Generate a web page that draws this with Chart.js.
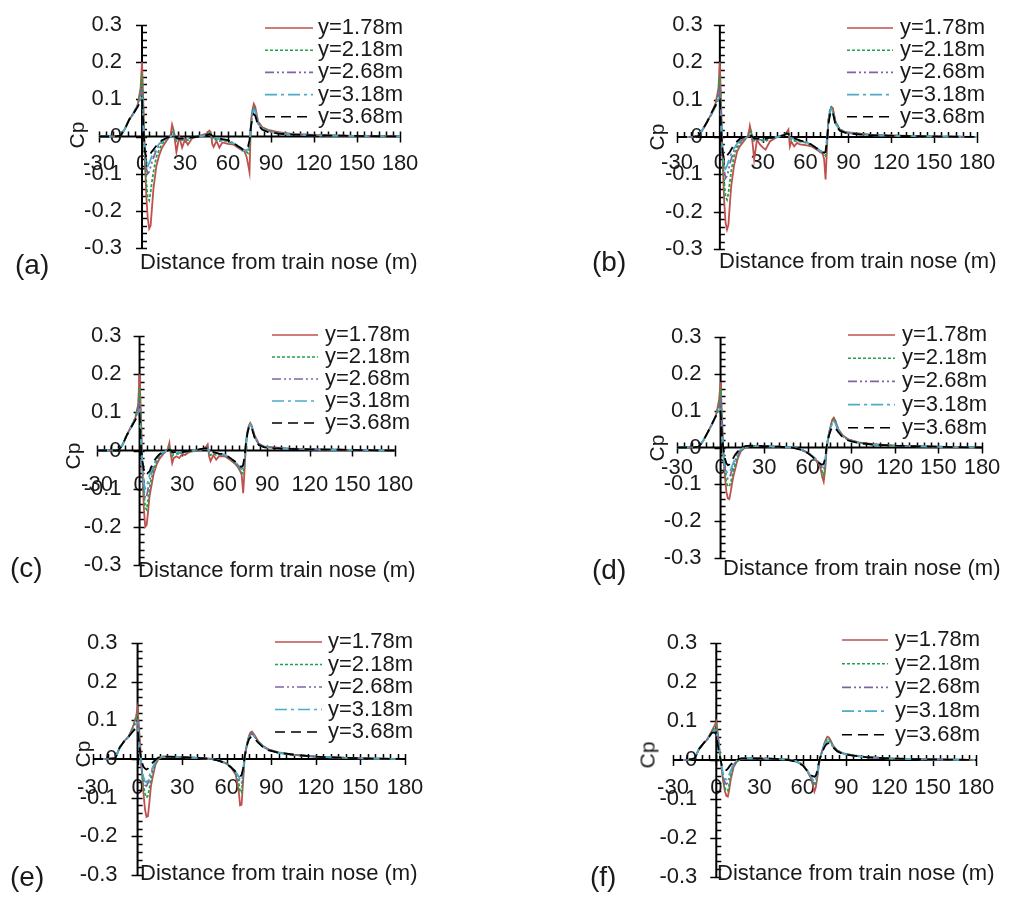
<!DOCTYPE html>
<html lang="en">
<head>
<meta charset="utf-8">
<title>Cp along the train at several heights</title>
<script src="https://cdn.jsdelivr.net/npm/chart.js@4.4.1/dist/chart.umd.min.js"></script>
<style>
  html, body { margin: 0; padding: 0; background: #ffffff; }
  #page { position: relative; width: 1013px; height: 899px; overflow: hidden;
          font-family: "Liberation Sans", Arial, sans-serif; color: #1a1a1a; }
  #page canvas { position: absolute; left: 0; top: 0; }
  .lbl { position: absolute; white-space: nowrap; line-height: 1; }
  .tag { font-size: 28px; transform: translateY(-50%); }
  .xtitle { font-size: 22px; transform: translateY(-50%); }
  .ytitle { font-size: 21px; transform: translate(-50%, -50%) rotate(-90deg); }
</style>
</head>
<body>
<div id="page"></div>
<script>
// ---------- data ----------
const SERIES_LABELS = ['y=1.78m', 'y=2.18m', 'y=2.68m', 'y=3.18m', 'y=3.68m'];
const X_TICKS = [-30, 0, 30, 60, 90, 120, 150, 180];
const Y_TICKS = [-0.3, -0.2, -0.1, 0, 0.1, 0.2, 0.3];
const Y_AXIS_TITLE = 'Cp';
const X_TITLE = 'Distance from train nose (m)';
const X_TITLE_C = 'Distance form train nose (m)';
const PANEL_TAGS = ['(a)', '(b)', '(c)', '(d)', '(e)', '(f)'];

// sampling positions (m) for panels a-c and d-f
const X_NOISY = [
  -30, -20, -15, -12, -9, -6, -3, -1, 0,
  1, 2, 3, 4, 5, 6, 7, 8,
  10, 12, 14, 17, 20,
  21, 22, 23, 24, 26, 28, 30, 32, 35,
  40, 45, 47, 48, 49, 50, 52, 54, 56,
  60, 64, 67, 69, 70, 71, 72, 73, 74, 75, 76, 77, 78, 79,
  81, 84, 88, 95, 105, 120, 140, 160, 180
];
const X_SMOOTH = [
  -30, -20, -15, -12, -9, -6, -3, -1, 0,
  1, 2, 3, 4, 5, 6, 7, 8, 9, 10,
  12, 14, 17, 20,
  30, 40, 50, 55, 60,
  63, 66, 68, 69, 70, 71, 72, 73, 74, 75, 76, 77, 78, 79,
  81, 84, 88, 95, 105, 120, 140, 160, 180
];

// (a)
const A_178 = [
  0, 0, 0.002, 0.02, 0.045, 0.062, 0.085, 0.13, 0.2,
  0.08, -0.06, -0.16, -0.22, -0.248, -0.24, -0.19, -0.14,
  -0.08, -0.05, -0.03, -0.012, 0.005,
  0.032, 0.018, -0.012, -0.042, 0, -0.03, -0.008, -0.022, -0.005,
  0.002, 0.008, 0.016, 0.012, -0.02, -0.028, -0.012, -0.03, -0.016,
  -0.02, -0.022, -0.03, -0.035, -0.038, -0.036, -0.045, -0.055, -0.075, -0.096, 0.04, 0.07, 0.088, 0.08,
  0.04, 0.025, 0.018, 0.012, 0.007, 0.004, 0.002, 0.001, 0
];
const A_218 = [
  0, 0, 0.002, 0.02, 0.045, 0.062, 0.085, 0.12, 0.17,
  0.06, -0.05, -0.12, -0.165, -0.172, -0.15, -0.12, -0.095,
  -0.055, -0.035, -0.02, -0.008, 0.002,
  0.01, 0.015, 0.002, -0.012, -0.004, -0.01, -0.006, -0.01, -0.003,
  0, 0.005, 0.01, 0.008, -0.004, -0.01, -0.008, -0.012, -0.01,
  -0.013, -0.02, -0.027, -0.033, -0.036, -0.038, -0.04, -0.042, -0.045, -0.03, 0.03, 0.065, 0.08, 0.074,
  0.038, 0.022, 0.015, 0.01, 0.006, 0.004, 0.002, 0.001, 0
];
const A_268 = [
  0, 0, 0.002, 0.02, 0.045, 0.062, 0.083, 0.105, 0.13,
  0.03, -0.05, -0.085, -0.1, -0.095, -0.082, -0.068, -0.057,
  -0.037, -0.023, -0.014, -0.006, 0,
  0.005, 0.01, 0, -0.008, -0.005, -0.008, -0.007, -0.006, -0.002,
  0, 0.004, 0.008, 0.006, 0, -0.004, -0.006, -0.008, -0.009,
  -0.011, -0.018, -0.026, -0.032, -0.035, -0.037, -0.038, -0.038, -0.036, -0.02, 0.03, 0.06, 0.075, 0.07,
  0.035, 0.02, 0.013, 0.009, 0.005, 0.003, 0.002, 0.001, 0
];
const A_318 = [
  0, 0, 0.002, 0.02, 0.045, 0.062, 0.082, 0.1, 0.11,
  0.02, -0.05, -0.075, -0.08, -0.072, -0.062, -0.052, -0.044,
  -0.03, -0.02, -0.012, -0.005, 0,
  0.003, 0.008, 0, -0.007, -0.005, -0.007, -0.007, -0.005, -0.002,
  0, 0.004, 0.007, 0.005, 0, -0.003, -0.005, -0.007, -0.008,
  -0.011, -0.018, -0.026, -0.031, -0.034, -0.036, -0.037, -0.036, -0.032, -0.015, 0.03, 0.058, 0.072, 0.068,
  0.034, 0.02, 0.013, 0.008, 0.005, 0.003, 0.002, 0.001, 0
];
const A_368 = [
  0, 0, 0.002, 0.02, 0.045, 0.062, 0.08, 0.095, 0.1,
  0.02, -0.04, -0.055, -0.056, -0.052, -0.046, -0.04, -0.035,
  -0.025, -0.017, -0.01, -0.004, 0,
  0, 0.004, 0, -0.004, -0.006, -0.005, -0.006, -0.004, -0.002,
  0, 0.004, 0.006, 0.005, 0.002, 0, -0.003, -0.005, -0.007,
  -0.01, -0.018, -0.026, -0.031, -0.034, -0.036, -0.035, -0.033, -0.027, -0.01, 0.025, 0.048, 0.06, 0.056,
  0.03, 0.018, 0.012, 0.008, 0.005, 0.003, 0.002, 0.001, 0
];

// (b)
const B_178 = [
  0, 0, 0.002, 0.02, 0.04, 0.062, 0.09, 0.13, 0.2,
  0.07, -0.07, -0.17, -0.23, -0.248, -0.235, -0.18, -0.13,
  -0.075, -0.04, -0.025, -0.01, 0.005,
  0.03, 0.012, -0.02, -0.06, -0.007, -0.02, -0.028, -0.034, -0.012,
  0, 0.006, 0.014, 0.02, -0.025, -0.012, -0.025, -0.016, -0.02,
  -0.022, -0.025, -0.032, -0.037, -0.04, -0.042, -0.045, -0.06, -0.114, -0.03, 0.046, 0.07, 0.08, 0.078,
  0.042, 0.02, 0.013, 0.01, 0.006, 0.004, 0.002, 0.001, 0
];
const B_218 = [
  0, 0, 0.002, 0.02, 0.04, 0.06, 0.085, 0.12, 0.165,
  0.05, -0.05, -0.12, -0.16, -0.168, -0.15, -0.12, -0.09,
  -0.05, -0.03, -0.016, -0.006, 0.003,
  0.012, 0.015, 0, -0.01, -0.004, -0.008, -0.01, -0.012, -0.004,
  0, 0.006, 0.01, 0.012, -0.004, -0.006, -0.01, -0.012, -0.012,
  -0.015, -0.022, -0.03, -0.035, -0.037, -0.039, -0.041, -0.045, -0.05, -0.01, 0.045, 0.07, 0.08, 0.075,
  0.038, 0.02, 0.013, 0.009, 0.006, 0.004, 0.002, 0.001, 0
];
const B_268 = [
  0, 0, 0.002, 0.02, 0.04, 0.06, 0.083, 0.105, 0.125,
  0.03, -0.05, -0.09, -0.11, -0.105, -0.09, -0.072, -0.058,
  -0.036, -0.022, -0.012, -0.005, 0,
  0.005, 0.008, 0, -0.007, -0.004, -0.007, -0.008, -0.008, -0.003,
  0, 0.005, 0.008, 0.008, 0, -0.004, -0.006, -0.009, -0.01,
  -0.013, -0.02, -0.028, -0.033, -0.036, -0.038, -0.04, -0.042, -0.04, -0.005, 0.04, 0.065, 0.077, 0.072,
  0.036, 0.019, 0.012, 0.008, 0.005, 0.003, 0.002, 0.001, 0
];
const B_318 = [
  0, 0, 0.002, 0.02, 0.04, 0.062, 0.082, 0.1, 0.11,
  0.02, -0.045, -0.075, -0.085, -0.078, -0.066, -0.055, -0.045,
  -0.03, -0.018, -0.01, -0.004, 0,
  0.004, 0.006, 0, -0.006, -0.004, -0.006, -0.007, -0.007, -0.003,
  0, 0.005, 0.008, 0.007, 0.001, -0.003, -0.005, -0.008, -0.01,
  -0.013, -0.02, -0.028, -0.033, -0.036, -0.038, -0.04, -0.04, -0.036, -0.005, 0.04, 0.063, 0.075, 0.07,
  0.035, 0.019, 0.012, 0.008, 0.005, 0.003, 0.002, 0.001, 0
];
const B_368 = [
  0, 0, 0.002, 0.02, 0.04, 0.064, 0.085, 0.097, 0.1,
  0.01, -0.043, -0.058, -0.056, -0.05, -0.045, -0.04, -0.033,
  -0.02, -0.012, -0.005, 0, 0,
  0.002, 0.004, 0, -0.004, -0.004, -0.005, -0.006, -0.005, -0.002,
  0, 0.005, 0.01, 0.008, 0.003, 0, -0.003, -0.006, -0.009,
  -0.014, -0.02, -0.028, -0.034, -0.037, -0.039, -0.041, -0.042, -0.04, -0.01, 0.035, 0.058, 0.07, 0.066,
  0.032, 0.017, 0.011, 0.008, 0.005, 0.003, 0.002, 0.001, 0
];

// (c)
const C_178 = [
  0, 0, 0, 0.015, 0.04, 0.062, 0.085, 0.12, 0.2,
  0.09, -0.05, -0.15, -0.2, -0.195, -0.16, -0.12, -0.1,
  -0.06, -0.037, -0.022, -0.008, 0.005,
  0.02, -0.01, -0.033, -0.02, -0.015, -0.02, -0.01, -0.012, -0.004,
  0, 0.004, 0.01, 0.016, -0.015, -0.028, -0.012, -0.024, -0.015,
  -0.015, -0.025, -0.034, -0.042, -0.048, -0.055, -0.065, -0.112, -0.05, 0.025, 0.05, 0.065, 0.072, 0.065,
  0.04, 0.018, 0.01, 0.008, 0.005, 0.003, 0.002, 0.001, 0
];
const C_218 = [
  0, 0, 0, 0.015, 0.04, 0.062, 0.085, 0.115, 0.166,
  0.06, -0.04, -0.11, -0.15, -0.155, -0.13, -0.1, -0.08,
  -0.05, -0.03, -0.017, -0.006, 0.002,
  0.008, 0, -0.015, -0.01, -0.008, -0.01, -0.006, -0.007, -0.002,
  0, 0.004, 0.007, 0.008, -0.006, -0.012, -0.008, -0.012, -0.01,
  -0.013, -0.022, -0.032, -0.04, -0.046, -0.052, -0.058, -0.06, -0.035, 0.01, 0.045, 0.062, 0.07, 0.064,
  0.038, 0.016, 0.009, 0.007, 0.005, 0.003, 0.002, 0.001, 0
];
const C_268 = [
  0, 0, 0, 0.015, 0.04, 0.062, 0.083, 0.105, 0.13,
  0.04, -0.04, -0.1, -0.125, -0.12, -0.1, -0.08, -0.065,
  -0.04, -0.025, -0.014, -0.005, 0.001,
  0.005, 0.002, -0.008, -0.006, -0.005, -0.007, -0.005, -0.005, -0.002,
  0, 0.004, 0.006, 0.006, -0.002, -0.006, -0.006, -0.009, -0.009,
  -0.012, -0.02, -0.03, -0.037, -0.042, -0.046, -0.048, -0.045, -0.025, 0.015, 0.045, 0.062, 0.069, 0.063,
  0.037, 0.016, 0.009, 0.007, 0.005, 0.003, 0.002, 0.001, 0
];
const C_318 = [
  0, 0, 0, 0.015, 0.04, 0.062, 0.082, 0.1, 0.11,
  0.03, -0.04, -0.085, -0.1, -0.095, -0.08, -0.065, -0.055,
  -0.035, -0.022, -0.012, -0.004, 0,
  0.004, 0.002, -0.005, -0.005, -0.004, -0.006, -0.004, -0.004, -0.001,
  0, 0.004, 0.006, 0.005, -0.001, -0.005, -0.005, -0.008, -0.008,
  -0.011, -0.02, -0.029, -0.036, -0.04, -0.044, -0.045, -0.042, -0.02, 0.018, 0.046, 0.062, 0.068, 0.062,
  0.036, 0.015, 0.009, 0.007, 0.005, 0.003, 0.002, 0.001, 0
];
const C_368 = [
  0, 0, 0, 0.015, 0.04, 0.06, 0.08, 0.095, 0.097,
  0.01, -0.028, -0.05, -0.062, -0.064, -0.058, -0.055, -0.045,
  -0.028, -0.018, -0.01, -0.003, 0,
  0.002, 0, -0.004, -0.004, -0.004, -0.005, -0.004, -0.003, -0.001,
  0.002, 0.005, 0.006, 0.005, 0.002, 0, -0.004, -0.006, -0.008,
  -0.01, -0.02, -0.028, -0.036, -0.04, -0.042, -0.042, -0.038, -0.015, 0.02, 0.045, 0.06, 0.065, 0.06,
  0.034, 0.014, 0.008, 0.006, 0.004, 0.003, 0.002, 0.001, 0
];

// (d)
const D_178 = [
  0, 0, 0.002, 0.018, 0.04, 0.063, 0.09, 0.13, 0.177,
  0.08, -0.02, -0.08, -0.12, -0.138, -0.14, -0.12, -0.095, -0.075, -0.06,
  -0.028, -0.01, 0, 0.004,
  0.004, 0.002, 0, -0.005, -0.014,
  -0.024, -0.036, -0.048, -0.06, -0.08, -0.093, -0.06, -0.005, 0.025, 0.045, 0.062, 0.076, 0.081, 0.074,
  0.05, 0.033, 0.022, 0.014, 0.009, 0.005, 0.003, 0.001, 0
];
const D_218 = [
  0, 0, 0.002, 0.018, 0.04, 0.063, 0.088, 0.12, 0.16,
  0.06, -0.02, -0.065, -0.095, -0.105, -0.106, -0.095, -0.078, -0.062, -0.048,
  -0.022, -0.008, 0.001, 0.004,
  0.004, 0.002, 0, -0.005, -0.014,
  -0.023, -0.034, -0.044, -0.052, -0.065, -0.075, -0.05, -0.003, 0.025, 0.044, 0.06, 0.072, 0.077, 0.071,
  0.048, 0.032, 0.021, 0.013, 0.009, 0.005, 0.003, 0.001, 0
];
const D_268 = [
  0, 0, 0.002, 0.018, 0.04, 0.063, 0.087, 0.105, 0.125,
  0.04, -0.02, -0.055, -0.075, -0.085, -0.083, -0.072, -0.06, -0.048, -0.038,
  -0.018, -0.006, 0.002, 0.004,
  0.004, 0.002, 0, -0.005, -0.014,
  -0.022, -0.033, -0.042, -0.048, -0.055, -0.06, -0.042, 0, 0.025, 0.043, 0.058, 0.068, 0.073, 0.068,
  0.047, 0.031, 0.02, 0.013, 0.008, 0.005, 0.003, 0.001, 0
];
const D_318 = [
  0, 0, 0.002, 0.018, 0.04, 0.063, 0.087, 0.1, 0.11,
  0.03, -0.02, -0.05, -0.065, -0.07, -0.068, -0.06, -0.05, -0.04, -0.032,
  -0.015, -0.005, 0.002, 0.004,
  0.004, 0.002, 0, -0.004, -0.014,
  -0.022, -0.033, -0.041, -0.046, -0.05, -0.052, -0.038, 0.002, 0.025, 0.042, 0.056, 0.066, 0.07, 0.066,
  0.046, 0.03, 0.02, 0.012, 0.008, 0.005, 0.003, 0.001, 0
];
const D_368 = [
  0, 0, 0.002, 0.018, 0.04, 0.063, 0.087, 0.1, 0.098,
  0.03, -0.005, -0.03, -0.043, -0.048, -0.046, -0.04, -0.034, -0.027, -0.02,
  -0.01, -0.003, 0.004, 0.005,
  0.004, 0.002, -0.001, -0.006, -0.015,
  -0.024, -0.035, -0.043, -0.045, -0.046, -0.044, -0.03, 0.002, 0.022, 0.037, 0.048, 0.054, 0.056, 0.053,
  0.042, 0.028, 0.019, 0.012, 0.008, 0.005, 0.003, 0.001, 0
];

// (e)
const E_178 = [
  0, 0, 0.002, 0.03, 0.046, 0.058, 0.085, 0.11, 0.131,
  0.08, 0.02, -0.04, -0.09, -0.13, -0.15, -0.148, -0.11, -0.07, -0.05,
  -0.015, 0, 0.006, 0.006,
  0.005, 0.003, 0, -0.004, -0.012,
  -0.022, -0.04, -0.08, -0.12, -0.118, -0.06, 0, 0.025, 0.045, 0.06, 0.069, 0.071, 0.066, 0.06,
  0.047, 0.035, 0.025, 0.017, 0.011, 0.006, 0.003, 0.001, 0
];
const E_218 = [
  0, 0, 0.002, 0.03, 0.046, 0.058, 0.082, 0.105, 0.114,
  0.06, 0.01, -0.035, -0.07, -0.09, -0.1, -0.095, -0.075, -0.05, -0.035,
  -0.01, 0.002, 0.006, 0.006,
  0.005, 0.003, 0, -0.004, -0.012,
  -0.021, -0.036, -0.06, -0.085, -0.087, -0.045, 0.002, 0.025, 0.043, 0.057, 0.065, 0.067, 0.064, 0.058,
  0.046, 0.034, 0.024, 0.016, 0.011, 0.006, 0.003, 0.001, 0
];
const E_268 = [
  0, 0, 0.002, 0.03, 0.046, 0.058, 0.078, 0.095, 0.1,
  0.045, 0.005, -0.03, -0.055, -0.068, -0.07, -0.062, -0.05, -0.037, -0.027,
  -0.008, 0.003, 0.006, 0.006,
  0.005, 0.003, 0, -0.004, -0.012,
  -0.021, -0.034, -0.05, -0.062, -0.062, -0.035, 0.003, 0.026, 0.043, 0.056, 0.063, 0.065, 0.062, 0.057,
  0.045, 0.033, 0.024, 0.016, 0.011, 0.006, 0.003, 0.001, 0
];
const E_318 = [
  0, 0, 0.002, 0.03, 0.046, 0.058, 0.076, 0.09, 0.092,
  0.04, 0.003, -0.028, -0.048, -0.058, -0.06, -0.054, -0.043, -0.032, -0.023,
  -0.007, 0.003, 0.006, 0.006,
  0.005, 0.003, 0, -0.004, -0.012,
  -0.021, -0.033, -0.045, -0.053, -0.053, -0.03, 0.004, 0.026, 0.042, 0.055, 0.062, 0.064, 0.061, 0.056,
  0.044, 0.033, 0.023, 0.016, 0.011, 0.006, 0.003, 0.001, 0
];
const E_368 = [
  0, 0, 0.002, 0.03, 0.046, 0.058, 0.072, 0.08, 0.078,
  0.04, 0.01, -0.01, -0.02, -0.025, -0.027, -0.025, -0.02, -0.015, -0.01,
  -0.002, 0.004, 0.007, 0.006,
  0.005, 0.003, 0, -0.005, -0.013,
  -0.022, -0.033, -0.04, -0.044, -0.042, -0.025, 0.005, 0.025, 0.04, 0.051, 0.056, 0.058, 0.056, 0.052,
  0.043, 0.032, 0.023, 0.016, 0.011, 0.006, 0.003, 0.001, 0
];

// (f)
const F_178 = [
  0, 0, 0.004, 0.028, 0.042, 0.054, 0.075, 0.09, 0.098,
  0.07, 0.035, 0, -0.03, -0.06, -0.08, -0.092, -0.094, -0.075, -0.05,
  -0.018, -0.005, 0.003, 0.004,
  0.004, 0.003, 0.001, -0.003, -0.012,
  -0.028, -0.05, -0.081, -0.07, -0.045, -0.015, 0.005, 0.018, 0.03, 0.043, 0.053, 0.06, 0.058, 0.052,
  0.036, 0.024, 0.017, 0.012, 0.007, 0.004, 0.002, 0.001, 0
];
const F_218 = [
  0, 0, 0.004, 0.028, 0.042, 0.054, 0.074, 0.086, 0.09,
  0.065, 0.03, 0, -0.028, -0.055, -0.072, -0.08, -0.079, -0.063, -0.043,
  -0.015, -0.004, 0.003, 0.004,
  0.004, 0.003, 0.001, -0.003, -0.012,
  -0.027, -0.047, -0.066, -0.06, -0.04, -0.012, 0.006, 0.018, 0.03, 0.042, 0.051, 0.056, 0.055, 0.05,
  0.035, 0.024, 0.017, 0.012, 0.007, 0.004, 0.002, 0.001, 0
];
const F_268 = [
  0, 0, 0.004, 0.028, 0.042, 0.054, 0.072, 0.08, 0.082,
  0.058, 0.028, 0, -0.025, -0.045, -0.058, -0.062, -0.058, -0.046, -0.033,
  -0.012, -0.003, 0.003, 0.004,
  0.004, 0.003, 0.001, -0.003, -0.012,
  -0.027, -0.046, -0.06, -0.055, -0.036, -0.01, 0.006, 0.018, 0.029, 0.04, 0.048, 0.052, 0.051, 0.047,
  0.034, 0.023, 0.016, 0.011, 0.007, 0.004, 0.002, 0.001, 0
];
const F_318 = [
  0, 0, 0.004, 0.028, 0.042, 0.054, 0.07, 0.076, 0.078,
  0.055, 0.026, 0, -0.022, -0.038, -0.048, -0.05, -0.046, -0.037, -0.027,
  -0.01, -0.002, 0.003, 0.004,
  0.004, 0.003, 0.001, -0.003, -0.012,
  -0.027, -0.045, -0.056, -0.05, -0.032, -0.008, 0.007, 0.018, 0.028, 0.038, 0.045, 0.048, 0.048, 0.045,
  0.033, 0.023, 0.016, 0.011, 0.007, 0.004, 0.002, 0.001, 0
];
const F_368 = [
  0, 0, 0.004, 0.028, 0.042, 0.054, 0.07, 0.07, 0.065,
  0.04, 0.017, 0, -0.017, -0.023, -0.026, -0.026, -0.022, -0.017, -0.012,
  -0.005, 0, 0.004, 0.004,
  0.004, 0.003, 0, -0.004, -0.014,
  -0.028, -0.04, -0.043, -0.04, -0.028, -0.008, 0.006, 0.016, 0.025, 0.033, 0.039, 0.042, 0.043, 0.041,
  0.032, 0.022, 0.015, 0.011, 0.007, 0.004, 0.002, 0.001, 0
];

// ---------- styling & layout ----------
const W = 1013, H = 899;
const FONT = '"Liberation Sans", Arial, sans-serif';
const TEXT = '#1a1a1a';
const AXIS = '#000000';
const X_MIN = -30, X_MAX = 180, X_MAJOR = 30, X_MINOR = 5;
const Y_MIN = -0.3, Y_MAX = 0.3, Y_MINOR = 0.02;

const STYLES = [
  { color: '#c0504d', dash: [] },
  { color: '#1fa34a', dash: [3, 2] },
  { color: '#8064a2', dash: [9, 3, 2, 3, 2, 3] },
  { color: '#4bacc6', dash: [12, 4, 3, 4] },
  { color: '#000000', dash: [10, 6] }
];

const PANELS = [
  { xs: X_NOISY, ys: [A_178, A_218, A_268, A_318, A_368], title: X_TITLE,
    area: { l: 99, r: 400, t: 25, b: 248 }, xPad: 14, yGap: 20,
    legend: { x: 265, len: 48, tx: 318, y: 28, dy: 22.2 },
    tagAt: [15, 265], titleAt: [140, 262], cpAt: [76, 135] },
  { xs: X_NOISY, ys: [B_178, B_218, B_268, B_318, B_368], title: X_TITLE,
    area: { l: 677, r: 977, t: 25, b: 249 }, xPad: 13, yGap: 17,
    legend: { x: 847, len: 46, tx: 900, y: 28, dy: 22.2 },
    tagAt: [592, 262], titleAt: [719, 261], cpAt: [656, 137] },
  { xs: X_NOISY, ys: [C_178, C_218, C_268, C_318, C_368], title: X_TITLE_C,
    area: { l: 97, r: 395, t: 336, b: 565 }, xPad: 21, yGap: 18,
    legend: { x: 272, len: 46, tx: 325, y: 335, dy: 22 },
    tagAt: [10, 568], titleAt: [138, 570], cpAt: [72, 456] },
  { xs: X_SMOOTH, ys: [D_178, D_218, D_268, D_318, D_368], title: X_TITLE,
    area: { l: 677, r: 982, t: 337, b: 558 }, xPad: 7, yGap: 19,
    legend: { x: 848, len: 47, tx: 902, y: 335, dy: 23.2 },
    tagAt: [592, 570], titleAt: [723, 568], cpAt: [656, 448] },
  { xs: X_SMOOTH, ys: [E_178, E_218, E_268, E_318, E_368], title: X_TITLE,
    area: { l: 93, r: 405, t: 643, b: 875 }, xPad: 16, yGap: 20,
    legend: { x: 275, len: 47, tx: 328, y: 642, dy: 22.5 },
    tagAt: [10, 877], titleAt: [140, 873], cpAt: [82, 754] },
  { xs: X_SMOOTH, ys: [F_178, F_218, F_268, F_318, F_368], title: X_TITLE,
    area: { l: 673, r: 976, t: 643, b: 877 }, xPad: 15, yGap: 19,
    legend: { x: 842, len: 46, tx: 895, y: 640, dy: 23.7 },
    tagAt: [590, 877], titleAt: [717, 873], cpAt: [647, 755] }
];

// axes crossing at the origin, with major ticks across the line and minor ticks on one side
const crossAxes = {
  id: 'crossAxes',
  beforeDatasetsDraw(chart) {
    const { ctx, chartArea: a, scales: { x, y } } = chart;
    const x0 = x.getPixelForValue(0), y0 = y.getPixelForValue(0);
    ctx.save();
    ctx.strokeStyle = AXIS;
    ctx.lineWidth = 1.5;
    ctx.beginPath();
    for (let k = X_MIN / X_MINOR; k <= X_MAX / X_MINOR; k++) {
      const v = k * X_MINOR;
      const px = Math.round(x.getPixelForValue(v)) + 0.5;
      ctx.moveTo(px, y0 - 5);
      ctx.lineTo(px, v % X_MAJOR === 0 ? y0 + 6 : y0);
    }
    const n = Math.round(Y_MAX / Y_MINOR);
    for (let k = -n; k <= n; k++) {
      const py = Math.round(y.getPixelForValue(k * Y_MINOR)) + 0.5;
      ctx.moveTo(k % 5 === 0 ? x0 - 6 : x0, py);
      ctx.lineTo(x0 + 5, py);
    }
    ctx.stroke();
    ctx.lineWidth = 2;
    ctx.beginPath();
    ctx.moveTo(a.left, y0); ctx.lineTo(a.right, y0);
    ctx.moveTo(x0, a.top); ctx.lineTo(x0, a.bottom);
    ctx.stroke();
    ctx.restore();
  }
};

// series key drawn with each dataset's own stroke style
const panelLegend = {
  id: 'panelLegend',
  afterDraw(chart, args, o) {
    const ctx = chart.ctx;
    ctx.save();
    chart.data.datasets.forEach((ds, i) => {
      const yy = o.y + i * o.dy;
      ctx.strokeStyle = ds.borderColor;
      ctx.lineWidth = 1.6;
      ctx.setLineDash(ds.borderDash || []);
      ctx.beginPath();
      ctx.moveTo(o.x, yy); ctx.lineTo(o.x + o.len, yy);
      ctx.stroke();
      ctx.setLineDash([]);
      ctx.fillStyle = TEXT;
      ctx.font = '22px ' + FONT;
      ctx.textAlign = 'left';
      ctx.textBaseline = 'middle';
      ctx.fillText(ds.label, o.tx, yy);
    });
    ctx.restore();
  }
};

const page = document.getElementById('page');

function addText(cls, text, x, y) {
  const d = document.createElement('div');
  d.className = 'lbl ' + cls;
  d.textContent = text;
  d.style.left = x + 'px';
  d.style.top = y + 'px';
  page.appendChild(d);
}

PANELS.forEach((p, idx) => {
  const cv = document.createElement('canvas');
  cv.width = W; cv.height = H;
  page.appendChild(cv);
  // the y tick labels are anchored a few pixels left of the origin line
  const pxPerUnit = (p.area.r - p.area.l) / (X_MAX - X_MIN);
  const labelAnchor = -p.yGap / pxPerUnit;
  new Chart(cv, {
    type: 'line',
    data: {
      datasets: SERIES_LABELS.map((label, i) => ({
        label,
        data: p.xs.map((x, k) => ({ x, y: p.ys[i][k] })),
        borderColor: STYLES[i].color,
        borderDash: STYLES[i].dash,
        borderWidth: 1.8,
        pointRadius: 0,
        tension: 0,
        fill: false,
        order: SERIES_LABELS.length - i
      }))
    },
    options: {
      responsive: false,
      animation: false,
      devicePixelRatio: 1,
      layout: { padding: { left: p.area.l, right: W - p.area.r, top: p.area.t, bottom: H - p.area.b } },
      plugins: { legend: { display: false }, tooltip: { enabled: false }, panelLegend: p.legend },
      scales: {
        x: {
          type: 'linear', min: X_MIN, max: X_MAX, position: { y: 0 },
          afterFit: s => { s.height = 0; },
          afterBuildTicks: s => { s.ticks = X_TICKS.map(v => ({ value: v })); },
          grid: { display: false, drawTicks: false },
          border: { display: false },
          ticks: { autoSkip: false, maxRotation: 0, padding: p.xPad, color: TEXT,
                   font: { family: FONT, size: 22 }, callback: v => String(v) }
        },
        y: {
          type: 'linear', min: Y_MIN, max: Y_MAX, position: { x: labelAnchor },
          afterFit: s => { s.width = 0; },
          afterBuildTicks: s => { s.ticks = Y_TICKS.map(v => ({ value: v })); },
          grid: { display: false, drawTicks: false },
          border: { display: false },
          ticks: { autoSkip: false, padding: 0, color: TEXT,
                   font: { family: FONT, size: 22 }, callback: v => String(Math.round(v * 10) / 10) }
        }
      }
    },
    plugins: [crossAxes, panelLegend]
  });
  addText('tag', PANEL_TAGS[idx], p.tagAt[0], p.tagAt[1]);
  addText('xtitle', p.title, p.titleAt[0], p.titleAt[1]);
  addText('ytitle', Y_AXIS_TITLE, p.cpAt[0], p.cpAt[1]);
});
</script>
</body>
</html>
